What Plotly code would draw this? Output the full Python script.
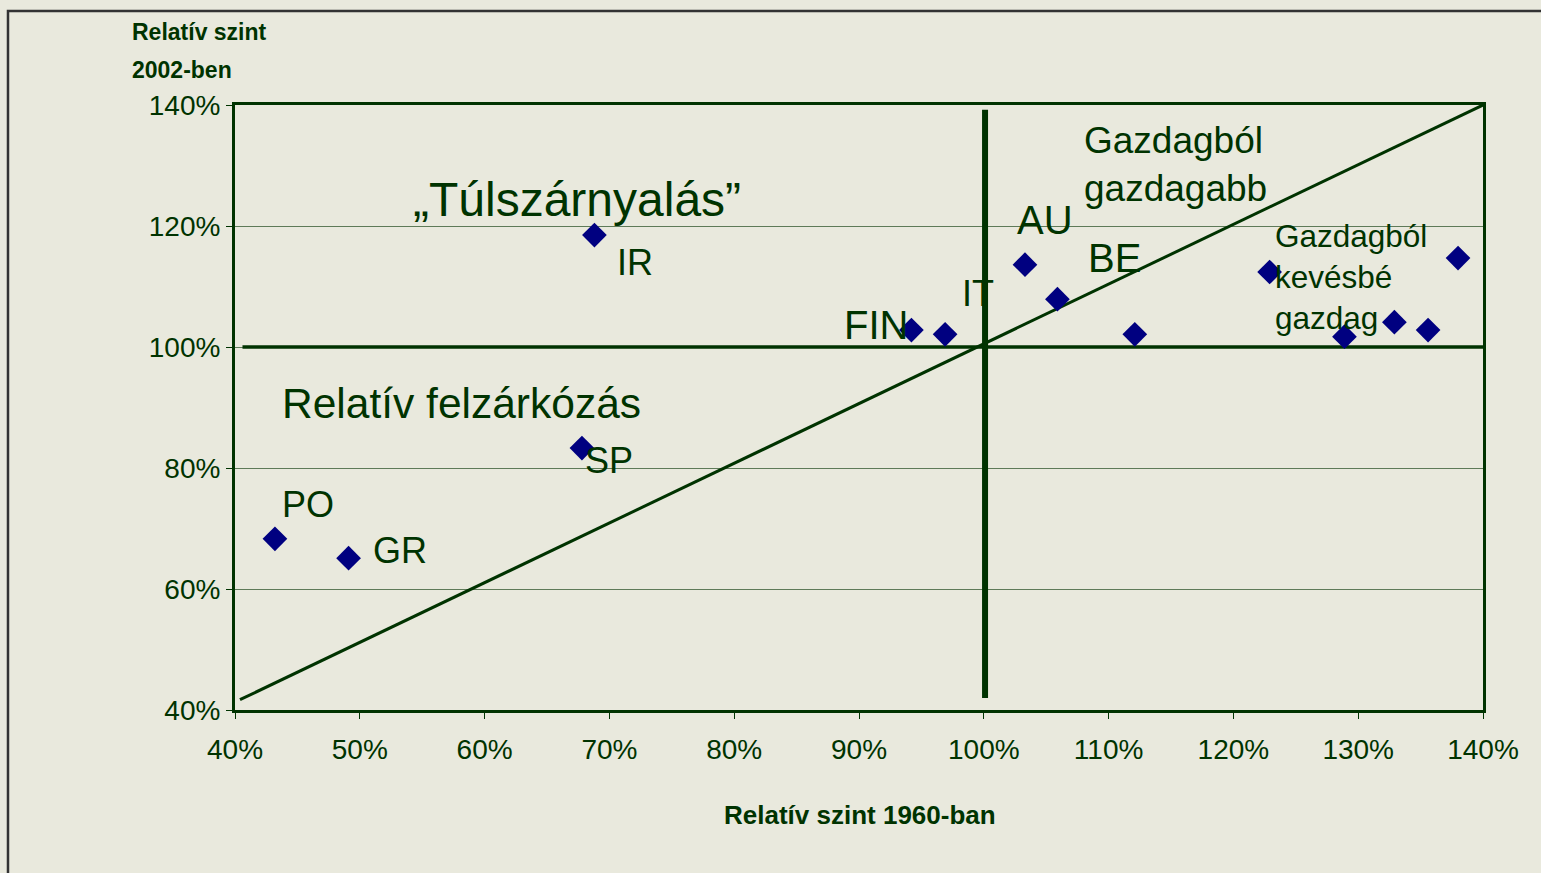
import plotly.graph_objects as go

# Data: relative level 1960 (x, %) vs relative level 2002 (y, %)
countries = ["IR", "SP", "PO", "GR", "FIN", "IT", "AU", "BE", "c9", "c10", "c11", "c12", "c13", "c14"]
x_1960 = [68.8, 67.8, 43.2, 49.1, 94.2, 96.9, 103.3, 105.9, 112.1, 122.9, 128.9, 132.9, 135.6, 138.0]
y_2002 = [118.5, 83.3, 68.3, 65.1, 102.8, 102.1, 113.6, 107.9, 102.1, 112.4, 101.7, 104.1, 102.8, 114.7]

# Guide lines
diag_x = [40.4, 140.0]
diag_y = [41.7, 140.0]
vline_x = [100.1, 100.1]
vline_y = [42.0, 139.2]
hline_x = [40.6, 140.0]
hline_y = [100.0, 100.0]

x_ticks = [40, 50, 60, 70, 80, 90, 100, 110, 120, 130, 140]
y_ticks = [40, 60, 80, 100, 120, 140]

GREEN = "#003300"
BG = "#E9E9DD"
FONT = "Liberation Sans, Arial, sans-serif"

fig = go.Figure()
fig.add_trace(go.Scatter(x=diag_x, y=diag_y, mode="lines",
                         line=dict(color=GREEN, width=3), hoverinfo="skip", showlegend=False))
fig.add_trace(go.Scatter(x=hline_x, y=hline_y, mode="lines",
                         line=dict(color=GREEN, width=3.5), hoverinfo="skip", showlegend=False))
fig.add_trace(go.Scatter(x=vline_x, y=vline_y, mode="lines",
                         line=dict(color=GREEN, width=6), hoverinfo="skip", showlegend=False))
fig.add_trace(go.Scatter(x=x_1960, y=y_2002, mode="markers", text=countries,
                         marker=dict(symbol="diamond", size=19, color="#000080"),
                         showlegend=False))

labels = [
    ("„Túlszárnyalás”", 67.4, 124.3, 48, "center"),
    ("IR", 70.45, 113.9, 36, "left"),
    ("Relatív felzárkózás", 43.6, 90.6, 42.5, "left"),
    ("SP", 67.9, 81.3, 36, "left"),
    ("PO", 43.6, 73.9, 36, "left"),
    ("GR", 50.9, 66.3, 36, "left"),
    ("FIN", 88.6, 103.6, 40, "left"),
    ("IT", 98.1, 108.8, 36, "left"),
    ("AU", 102.5, 121.0, 40, "left"),
    ("BE", 108.2, 114.7, 40, "left"),
]
for txt, x, y, size, anchor in labels:
    fig.add_annotation(x=x, y=y, xref="x", yref="y", text=txt, showarrow=False,
                       xanchor=anchor, yanchor="middle",
                       font=dict(family=FONT, size=size, color=GREEN))

fig.add_annotation(x=107.85, y=130.2, xref="x", yref="y", text="Gazdagból<br>gazdagabb",
                   showarrow=False, xanchor="left", yanchor="middle", align="left",
                   font=dict(family=FONT, size=37, color=GREEN))
fig.add_annotation(x=123.15, y=111.6, xref="x", yref="y", text="Gazdagból<br>kevésbé<br>gazdag",
                   showarrow=False, xanchor="left", yanchor="middle", align="left",
                   font=dict(family=FONT, size=31.5, color=GREEN))

# Axis titles
fig.add_annotation(x=-0.0841, y=1.1207, xref="paper", yref="paper", text="<b>Relatív szint</b>",
                   showarrow=False, xanchor="left", yanchor="middle",
                   font=dict(family=FONT, size=23, color=GREEN))
fig.add_annotation(x=-0.0841, y=1.0579, xref="paper", yref="paper", text="<b>2002-ben</b>",
                   showarrow=False, xanchor="left", yanchor="middle",
                   font=dict(family=FONT, size=23, color=GREEN))
fig.add_annotation(x=0.5008, y=-0.1736, xref="paper", yref="paper", text="<b>Relatív szint 1960-ban</b>",
                   showarrow=False, xanchor="center", yanchor="middle",
                   font=dict(family=FONT, size=26, color=GREEN))

# Outer frame
fig.add_shape(type="rect", xref="paper", yref="paper", x0=-0.1819, x1=1.06, y0=-0.3, y1=1.1554,
              line=dict(color="#333333", width=2.5), fillcolor="rgba(0,0,0,0)", layer="below")

fig.update_layout(
    width=1541, height=873,
    margin=dict(l=235, r=58, t=105, b=163),
    paper_bgcolor=BG, plot_bgcolor=BG,
    showlegend=False,
    xaxis=dict(range=[40, 140], tickvals=x_ticks, ticktext=[f"{v}%" for v in x_ticks],
               showgrid=False, zeroline=False, showline=True, mirror=True,
               linecolor=GREEN, linewidth=3, ticks="outside", ticklen=6, tickcolor=GREEN,
               tickwidth=1, ticklabelstandoff=6,
               tickfont=dict(family=FONT, size=28, color=GREEN)),
    yaxis=dict(range=[40, 140], tickvals=y_ticks, ticktext=[f"{v}%" for v in y_ticks],
               showgrid=True, gridcolor="#5E7A58", gridwidth=1, zeroline=False,
               showline=True, mirror=True, linecolor=GREEN, linewidth=3,
               ticks="outside", ticklen=6, tickcolor=GREEN, tickwidth=1, ticklabelstandoff=0,
               tickfont=dict(family=FONT, size=28, color=GREEN)),
)

fig.write_html(
    "out.html",
    config={"displayModeBar": False},
    post_script="document.body.style.margin='0';document.body.style.overflow='hidden';"
                "document.body.style.background='#E9E9DD';",
)
